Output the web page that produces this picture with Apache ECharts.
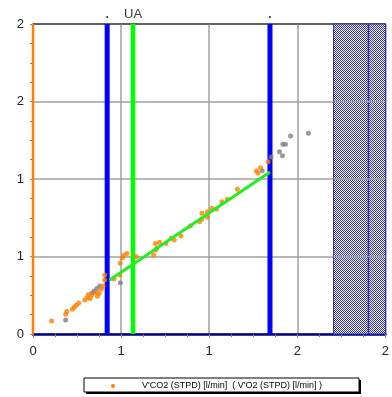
<!DOCTYPE html>
<html><head><meta charset="utf-8">
<script src="https://cdn.jsdelivr.net/npm/echarts@6/dist/echarts.min.js"></script>
<style>html,body{margin:0;padding:0;background:#fff}#c{width:392px;height:397px}</style>
</head><body><div id="c"></div>
<script>
// Tick labels (values are 0..2 step 0.5, shown rounded)
var xTickValues = [0, 0.5, 1, 1.5, 2];
var yTickValues = [0, 0.5, 1, 1.5, 2];
// V'CO2 vs V'O2 (orange)
var orangeX = [0.106,0.186,0.192,0.224,0.233,0.246,0.259,0.294,0.307,0.314,0.325,0.332,0.359,0.366,0.376,0.388,0.398,0.407,0.407,0.460,0.493,0.495,0.507,0.517,0.534,0.586,0.684,0.695,0.702,0.695,0.718,0.755,0.784,0.802,0.840,0.893,0.945,0.959,0.959,0.990,0.990,1.015,1.041,1.072,1.103,1.160,1.268,1.277,1.292,1.334];
var orangeY = [0.084,0.127,0.145,0.160,0.172,0.185,0.200,0.219,0.234,0.255,0.229,0.252,0.266,0.243,0.263,0.288,0.310,0.348,0.381,0.355,0.381,0.456,0.490,0.510,0.519,0.500,0.510,0.542,0.553,0.584,0.592,0.584,0.617,0.606,0.632,0.697,0.725,0.740,0.779,0.753,0.789,0.811,0.805,0.854,0.869,0.934,1.054,1.037,1.073,1.112];
// excluded points (gray)
var grayX = [0.185,0.336,0.347,0.362,0.379,0.496,1.301,1.351,1.399,1.416,1.418,1.433,1.462,1.563];
var grayY = [0.090,0.266,0.277,0.294,0.310,0.331,1.053,1.142,1.176,1.150,1.224,1.224,1.277,1.295];
// regression line
var fitX = [0.435, 1.345];
var fitY = [0.348, 1.045];
// markers
var blueMarkers = [0.421, 1.345];
var blueLabels = ['.', '.'];
var greenMarker = 0.568;
var greenLabel = 'UA';
var orangeMarker = 0;
var hatchRange = [1.706, 2.0];
var hatchInnerLine = 1.904;
var legendText = "V'CO2 (STPD) [l/min]  ( V'O2 (STPD) [l/min] )";

function zip(a, b) { return a.map(function (v, i) { return [v, b[i]]; }); }

var pc = document.createElement('canvas');
pc.width = 2; pc.height = 2;
var ctx = pc.getContext('2d');
ctx.fillStyle = '#ffffff'; ctx.fillRect(0, 0, 2, 2);
ctx.fillStyle = '#2c2cb4'; ctx.fillRect(0, 0, 1, 1); ctx.fillRect(1, 1, 1, 1);

var chart = echarts.init(document.getElementById('c'), null, { renderer: 'canvas' });
var fmt = function (v) { return String(Math.round(v)); };

var series = [];
// hatch
series.push({
  type: 'custom', silent: true, z: 1,
  data: [[hatchRange[0], hatchRange[1], hatchInnerLine]],
  renderItem: function (params, api) {
    var p0 = api.coord([api.value(0), 2]);
    var p1 = api.coord([api.value(1), 0]);
    var pm = api.coord([api.value(2), 0]);
    var children = [
      { type: 'rect', shape: { x: p0[0], y: p0[1], width: p1[0] - p0[0], height: p1[1] - p0[1] },
        style: { fill: { image: pc, repeat: 'repeat' }, stroke: '#2c2cb4', lineWidth: 1 } },
      { type: 'line', shape: { x1: pm[0], y1: p0[1], x2: pm[0], y2: p1[1] }, style: { stroke: '#2c2cb4', lineWidth: 1.5 } }
    ];
    yTickValues.slice(1, -1).forEach(function (yv) {
      var a = api.coord([api.value(0), yv]);
      children.push({ type: 'line', shape: { x1: p0[0], y1: a[1], x2: p1[0], y2: a[1] }, style: { stroke: '#a0a0a0', lineWidth: 1.5 } });
    });
    return { type: 'group', children: children };
  }
});
// orange marker
series.push({ type: 'line', data: [[orangeMarker, 0], [orangeMarker, 2]], symbol: 'none', lineStyle: { color: '#ff8000', width: 2.5 }, z: 3, silent: true, animation: false });
// blue markers
blueMarkers.forEach(function (x) {
  series.push({ type: 'line', data: [[x, 0], [x, 2]], symbol: 'none', lineStyle: { color: '#0000ff', width: 5 }, z: 3, silent: true, animation: false });
});
// green marker
series.push({ type: 'line', data: [[greenMarker, 0], [greenMarker, 2]], symbol: 'none', lineStyle: { color: '#00ff00', width: 4.5 }, z: 3, silent: true, animation: false });
// marker labels above the plot
var markerLabelData = blueMarkers.map(function (x, i) {
  return { value: [x, 2], label: { formatter: blueLabels[i], fontSize: 12, fontWeight: 'bold', distance: 3 } };
});
markerLabelData.push({ value: [greenMarker, 2], label: { formatter: greenLabel, fontSize: 13, distance: 3 } });
series.push({ type: 'scatter', data: markerLabelData, symbolSize: 1, itemStyle: { color: 'rgba(0,0,0,0)' }, clip: false, silent: true, z: 7,
  label: { show: true, position: 'top', color: '#000', fontFamily: 'Liberation Sans' } });
// gray
series.push({ type: 'scatter', data: zip(grayX, grayY), symbolSize: 5, itemStyle: { color: '#808080' }, z: 4, animation: false });
// orange
series.push({ name: legendText, type: 'scatter', data: zip(orangeX, orangeY), symbolSize: 5, itemStyle: { color: '#ff8000' }, z: 5, animation: false });
// fit
series.push({ type: 'line', data: zip(fitX, fitY), symbol: 'none', lineStyle: { color: '#22ee22', width: 3 }, z: 6, animation: false });

chart.setOption({
  animation: false,
  grid: { left: 33, right: 4, top: 24, bottom: 63 },
  xAxis: [{
    type: 'value', min: 0, max: 2, interval: 0.5,
    axisLine: { show: true, lineStyle: { color: '#000080', width: 2.5 } },
    axisTick: { show: true, length: 4, lineStyle: { color: '#888' } },
    minorTick: { show: true, splitNumber: 4, length: 3, lineStyle: { color: '#777' } },
    splitLine: { show: true, lineStyle: { color: '#a0a0a0', width: 1.5 } },
    axisLabel: { formatter: fmt, fontSize: 13, color: '#222', fontFamily: 'Liberation Sans', margin: 11, customValues: xTickValues }
  }, {
    type: 'value', min: 0, max: 2, interval: 0.5, position: 'top',
    axisLine: { show: true, onZero: false, lineStyle: { color: '#444', width: 1.5 } },
    axisTick: { show: true, inside: true, length: 3, lineStyle: { color: '#999' } },
    axisLabel: { show: false }, splitLine: { show: false }
  }],
  yAxis: {
    type: 'value', min: 0, max: 2, interval: 0.5,
    axisLine: { show: false },
    axisTick: { show: true, length: 3, lineStyle: { color: '#888' } },
    minorTick: { show: true, splitNumber: 4, length: 3, lineStyle: { color: '#777' } },
    splitLine: { show: true, lineStyle: { color: '#a0a0a0', width: 1.5 } },
    axisLabel: { formatter: fmt, fontSize: 13, color: '#222', fontFamily: 'Liberation Sans', margin: 9 }
  },
  series: series,
  graphic: [
    { type: 'rect', shape: { x: 86, y: 380, width: 275, height: 14 }, style: { fill: '#000' }, silent: true },
    { type: 'rect', shape: { x: 84, y: 378, width: 275, height: 14 }, style: { fill: '#fff', stroke: '#000', lineWidth: 1 }, silent: true },
    { type: 'circle', shape: { cx: 113, cy: 386, r: 2 }, style: { fill: '#ff8000' }, silent: true },
    { type: 'text', x: 142, y: 386, style: { text: legendText, fontSize: 9, fontFamily: 'Liberation Sans', fill: '#000', verticalAlign: 'middle' }, silent: true }
  ]
});
</script></body></html>
